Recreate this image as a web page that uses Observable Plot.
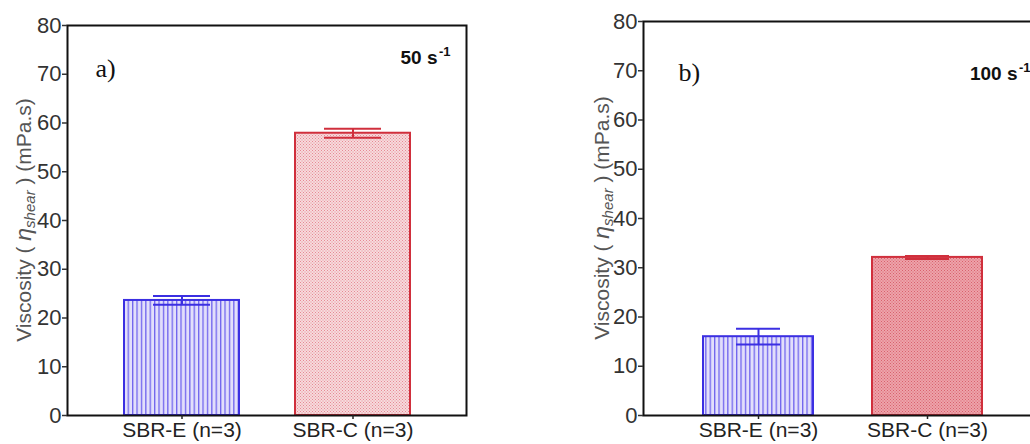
<!DOCTYPE html>
<html><head><meta charset="utf-8">
<script src="https://cdn.jsdelivr.net/npm/d3@7"></script>
<script src="https://cdn.jsdelivr.net/npm/@observablehq/plot@0.6"></script>
<style>
body{margin:0;background:#fff;}
#wrap{position:relative;width:1030px;height:444px;overflow:hidden;background:#fff;}
.panel{position:absolute;top:0;}
</style></head><body><div id="wrap"></div>
<script>
const categories = ["SBR-E (n=3)", "SBR-C (n=3)"];
const mean50 = [23.6, 57.9];
const sd50 = [0.9, 0.9];
const mean100 = [16.0, 32.1];
const sd100 = [1.6, 0.3];
const yTicks = [0, 10, 20, 30, 40, 50, 60, 70, 80];
const panelLabels = ["a)", "b)"];
const rateLabels = ["50 s", "100 s"];
const rateExp = "-1";
const strokeColors = ["#3b2fe2", "#d02f3c"];

const panels = [
  {id: "pa", means: mean50, sds: sd50, label: panelLabels[0], rate: rateLabels[0],
   left: 0, width: 480, mL: 67, mR: 14, mT: 25, mB: 29, pad: 0.33, cap: 29,
   lab: {dx: 28, dy: 51}, rateDx: -29, expDx: -16, rateDy: 38, expDy: 30,
   redBg: "#f7dadd", redDot: "#e68a94", ylabX: 31},
  {id: "pb", means: mean100, sds: sd100, label: panelLabels[1], rate: rateLabels[1],
   left: 560, width: 490, mL: 83, mR: 8, mT: 21, mB: 29, pad: 0.348, cap: 33,
   lab: {dx: 35, dy: 59}, rateDx: -25, expDx: -12, rateDy: 58, expDy: 50,
   redBg: "#eda3aa", redDot: "#d9606d", ylabX: 49}
];

const wrap = d3.select("#wrap");

for (const p of panels) {
  const data = categories.map((c, i) => ({cat: c, i, mean: p.means[i], lo: p.means[i] - p.sds[i], hi: p.means[i] + p.sds[i]}));
  const chart = Plot.plot({
    width: p.width, height: 444,
    marginLeft: p.mL, marginRight: p.mR, marginTop: p.mT, marginBottom: p.mB,
    style: {fontFamily: "'Liberation Sans', Arial, sans-serif", background: "transparent", color: "#222"},
    x: {domain: categories, padding: p.pad},
    y: {domain: [0, 80]},
    marks: [
      Plot.barY(data, {x: "cat", y: "mean", fill: d => `url(#${p.id}-fill${d.i})`, stroke: d => strokeColors[d.i], strokeWidth: 2}),
      Plot.ruleX(data, {x: "cat", y1: "lo", y2: "hi", stroke: d => strokeColors[d.i], strokeWidth: 2}),
      Plot.tickY(data, {x: "cat", y: "hi", stroke: d => strokeColors[d.i], strokeWidth: 2, insetLeft: p.cap, insetRight: p.cap}),
      Plot.tickY(data, {x: "cat", y: "lo", stroke: d => strokeColors[d.i], strokeWidth: 2, insetLeft: p.cap, insetRight: p.cap}),
      Plot.frame({stroke: "#111", strokeWidth: 2}),
      Plot.axisY({ticks: yTicks, tickSize: 5, tickPadding: 1, strokeWidth: 1.5, fontSize: 22, label: null, color: "#333"}),
      Plot.axisX({tickSize: 4, tickPadding: 3, strokeWidth: 1.5, fontSize: 21, label: null, color: "#222"}),
      Plot.text([p.label], {frameAnchor: "top-left", textAnchor: "start", lineAnchor: "bottom", dx: p.lab.dx, dy: p.lab.dy, fontSize: 26, fontFamily: "'Liberation Serif', 'Times New Roman', serif", fill: "#111"}),
      Plot.text([p.rate], {frameAnchor: "top-right", textAnchor: "end", lineAnchor: "bottom", dx: p.rateDx, dy: p.rateDy, fontSize: 19, fontWeight: "bold", fill: "#111"}),
      Plot.text([rateExp], {frameAnchor: "top-right", textAnchor: "end", lineAnchor: "bottom", dx: p.expDx, dy: p.expDy, fontSize: 13, fontWeight: "bold", fill: "#111"})
    ]
  });
  const svg = d3.select(chart);
  const defs = svg.insert("defs", ":first-child");
  // blue vertical stripes
  const pe = defs.append("pattern").attr("id", `${p.id}-fill0`).attr("patternUnits", "userSpaceOnUse").attr("width", 4.4).attr("height", 10);
  pe.append("rect").attr("width", 4.4).attr("height", 10).attr("fill", "#e2dffb");
  pe.append("rect").attr("x", 0).attr("width", 1.3).attr("height", 10).attr("fill", "#6f63ee");
  // red fine crosshatch
  const pc = defs.append("pattern").attr("id", `${p.id}-fill1`).attr("patternUnits", "userSpaceOnUse").attr("width", 3).attr("height", 3);
  pc.append("rect").attr("width", 3).attr("height", 3).attr("fill", p.redBg);
  pc.append("rect").attr("width", 1).attr("height", 1).attr("fill", p.redDot);
  pc.append("rect").attr("x", 1.5).attr("y", 1.5).attr("width", 1).attr("height", 1).attr("fill", p.redDot);

  // y-axis title with italic eta and subscript
  const t = svg.append("text")
    .attr("transform", `translate(${p.ylabX},${(p.mT + 444 - p.mB) / 2}) rotate(-90)`)
    .attr("text-anchor", "middle")
    .attr("font-family", "'Liberation Sans', Arial, sans-serif")
    .attr("font-size", 21)
    .attr("fill", "#555");
  t.append("tspan").text("Viscosity ( ");
  t.append("tspan").attr("font-style", "italic").attr("font-size", 23).text("η");
  t.append("tspan").attr("font-style", "italic").attr("font-size", 15).attr("dy", 4).text("shear");
  t.append("tspan").attr("dy", -4).text(" ) (mPa.s)");

  d3.select(chart).attr("class", "panel").style("left", p.left + "px");
  wrap.node().appendChild(chart);
}
</script></body></html>
